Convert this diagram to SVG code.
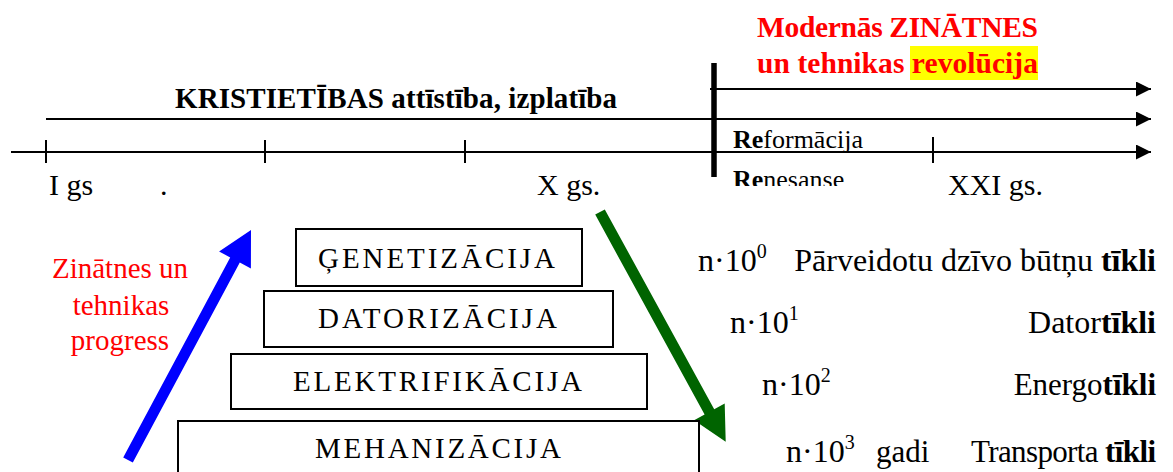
<svg xmlns="http://www.w3.org/2000/svg" width="1173" height="472" viewBox="0 0 1173 472">
<style>
  .ax { stroke: #000; stroke-width: 2; fill: none; }
  .tick { stroke: #000; stroke-width: 2; }
  .box { fill: #fff; stroke: #000; stroke-width: 2; }
  .red { fill: #ff0000; }
  .b { font-weight: bold; }
</style>
<defs>
  <marker id="ah" viewBox="0 0 15 15" refX="15" refY="7.5" markerWidth="15" markerHeight="15" markerUnits="userSpaceOnUse" orient="auto">
    <path d="M0,0 L15,7.5 L0,15 Z" fill="#000"/>
  </marker>
  <clipPath id="clipRen"><rect x="700" y="150" width="200" height="36"/></clipPath>
</defs>

<g id="connectors">
  <line class="ax" x1="710" y1="89" x2="1151" y2="89" marker-end="url(#ah)"/>
  <line class="ax" x1="46" y1="119" x2="1151" y2="119" marker-end="url(#ah)"/>
  <line class="ax" x1="11" y1="152" x2="1151" y2="152" marker-end="url(#ah)"/>
  <line class="tick" x1="46" y1="140" x2="46" y2="163"/>
  <line class="tick" x1="265" y1="140" x2="265" y2="163"/>
  <line class="tick" x1="465" y1="140" x2="465" y2="163"/>
  <line class="tick" x1="933" y1="137" x2="933" y2="163"/>
  <line stroke="#000" stroke-width="5.5" x1="714" y1="63" x2="714" y2="177"/>
  <polygon id="blue-arrow" fill="#0000ff" points="123.2,457.4 230.2,257.4 219.1,251.5 251,230 250.9,268.5 239.8,262.6 132.8,462.6"/>
  <polygon id="green-arrow" fill="#006400" points="595.2,214.6 704.6,414.5 694.1,420.3 725.7,441.7 724.7,403.5 714.2,409.3 604.8,209.4"/>
</g>

<g font-family="Liberation Serif" fill="#000">
<g id="title-modern">
  <rect x="910" y="46" width="128" height="34" fill="#ffff00"/>
  <text font-family="Liberation Serif" class="b red" x="757" y="37" font-size="29.5" textLength="281">Modernās ZINĀTNES</text>
  <text font-family="Liberation Serif" class="b red" x="757" y="73" font-size="29.5" textLength="281">un tehnikas revolūcija</text>
</g>

<g id="title-krist">
  <text font-family="Liberation Serif" class="b" x="175" y="108" font-size="29" textLength="442">KRISTIETĪBAS attīstība, izplatība</text>
</g>

<g id="reform">
  <text font-family="Liberation Serif" x="733" y="148" font-size="26"><tspan class="b">Re</tspan>formācija</text>
  <text font-family="Liberation Serif" x="733" y="188" font-size="26" clip-path="url(#clipRen)"><tspan class="b">Re</tspan>nesanse</text>
</g>

<g id="axis-labels">
  <text font-family="Liberation Serif" font-size="30" x="49" y="195">I gs</text>
  <text font-family="Liberation Serif" font-size="30" x="160" y="195">.</text>
  <text font-family="Liberation Serif" font-size="30" x="537" y="195">X gs.</text>
  <text font-family="Liberation Serif" font-size="30" x="948" y="195">XXI gs.</text>
</g>

<g id="progress-label">
  <text font-family="Liberation Serif" class="red" font-size="29" text-anchor="middle" x="120" y="278">Zinātnes un</text>
  <text font-family="Liberation Serif" class="red" font-size="29" text-anchor="middle" x="121" y="315">tehnikas</text>
  <text font-family="Liberation Serif" class="red" font-size="29" text-anchor="middle" x="120" y="350">progress</text>
</g>

<g id="box-genetizacija">
  <rect class="box" x="296" y="229" width="286" height="57"/>
  <text font-family="Liberation Serif" font-size="29" x="318" y="268" textLength="237" lengthAdjust="spacing">ĢENETIZĀCIJA</text>
</g>
<g id="box-datorizacija">
  <rect class="box" x="264" y="291" width="349" height="56"/>
  <text font-family="Liberation Serif" font-size="29" x="318" y="328" textLength="239" lengthAdjust="spacing">DATORIZĀCIJA</text>
</g>
<g id="box-elektrifikacija">
  <rect class="box" x="231" y="354" width="416" height="55"/>
  <text font-family="Liberation Serif" font-size="29" x="293" y="391" textLength="289" lengthAdjust="spacing">ELEKTRIFIKĀCIJA</text>
</g>
<g id="box-mehanizacija">
  <rect class="box" x="178" y="421" width="521" height="60"/>
  <text font-family="Liberation Serif" font-size="29" x="315" y="458" textLength="246" lengthAdjust="spacing">MEHANIZĀCIJA</text>
</g>

<g id="row-genetic">
  <text font-family="Liberation Serif" x="698" y="271" font-size="32">n·10<tspan font-size="20" dy="-13">0</tspan></text>
  <text font-family="Liberation Serif" font-size="32" text-anchor="end" x="1156" y="271">Pārveidotu dzīvo būtņu <tspan class="b">tīkli</tspan></text>
</g>
<g id="row-computer">
  <text font-family="Liberation Serif" x="730" y="333" font-size="32">n·10<tspan font-size="20" dy="-13">1</tspan></text>
  <text font-family="Liberation Serif" font-size="32" text-anchor="end" x="1156" y="333">Dator<tspan class="b">tīkli</tspan></text>
</g>
<g id="row-energy">
  <text font-family="Liberation Serif" x="762" y="395" font-size="32">n·10<tspan font-size="20" dy="-13">2</tspan></text>
  <text font-family="Liberation Serif" font-size="31" text-anchor="end" x="1156" y="395">Energo<tspan class="b">tīkli</tspan></text>
</g>
<g id="row-transport">
  <text font-family="Liberation Serif" x="786" y="462" font-size="32">n·10<tspan font-size="20" dy="-13">3</tspan></text>
  <text font-family="Liberation Serif" x="876" y="462" font-size="31">gadi</text>
  <text font-family="Liberation Serif" font-size="31" text-anchor="end" x="1156" y="462" textLength="185">Transporta <tspan class="b">tīkli</tspan></text>
</g>
</g>
</svg>
